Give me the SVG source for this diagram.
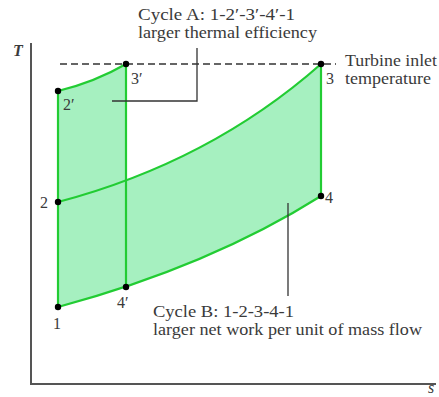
<svg xmlns="http://www.w3.org/2000/svg" width="439" height="397" viewBox="0 0 439 397">
<style>
text{font-family:"Liberation Serif","Times New Roman",serif;font-size:16px;fill:#3a3a3a}
.it{font-style:italic}
.cyc{stroke:#22cc33;stroke-width:2.2;fill:none}
.fill{fill:#a6f0c0;stroke:none}
.lead{stroke:#333;stroke-width:1.3;fill:none}
.axis{stroke:#555;stroke-width:2;fill:none}
.pt{fill:#000}
</style>
<rect width="439" height="397" fill="#fff"/>
<g id="regions">
<path class="fill" d="M58,307 L58,202 Q210,162 321,64 L321,196 Q210,266 58,307 Z"/>
<path class="fill" d="M58,307 L58,91 Q95,82 126,64 L126,287 Q90,297 58,307 Z"/>
</g>
<g id="axes">
<path class="axis" d="M31,43 L31,384 L436,384"/>
<text class="it" x="13" y="56" font-size="18" font-weight="bold">T</text>
<text class="it" x="428" y="393" font-size="14">s</text>
</g>
<g id="connectors">
<line x1="60" y1="64" x2="336" y2="64" stroke="#333" stroke-width="1.4" stroke-dasharray="7,4"/>
<path class="cyc" d="M58,307 L58,91"/>
<path class="cyc" d="M58,91 Q95,82 126,64"/>
<path class="cyc" d="M126,64 L126,287"/>
<path class="cyc" d="M58,202 Q210,162 321,64"/>
<path class="cyc" d="M321,64 L321,196"/>
<path class="cyc" d="M58,307 Q210,266 321,196"/>
<path class="lead" d="M197,48 L197,101 L112,101"/>
<path class="lead" d="M288,203 L288,296"/>
</g>
<g id="p1"><circle class="pt" cx="58" cy="307" r="3.2"/><text x="53" y="329" font-size="17">1</text></g>
<g id="p2"><circle class="pt" cx="58" cy="202" r="3.2"/><text x="40" y="208" font-size="17">2</text></g>
<g id="p2p"><circle class="pt" cx="58" cy="91" r="3.2"/><text x="63" y="110" font-size="17">2′</text></g>
<g id="p3p"><circle class="pt" cx="126" cy="64" r="3.2"/><text x="131" y="84" font-size="17">3′</text></g>
<g id="p3"><circle class="pt" cx="321" cy="64" r="3.2"/><text x="326" y="84" font-size="17">3</text></g>
<g id="p4"><circle class="pt" cx="321" cy="196" r="3.2"/><text x="325" y="203" font-size="17">4</text></g>
<g id="p4p"><circle class="pt" cx="126" cy="287" r="3.2"/><text x="117" y="308" font-size="17">4′</text></g>
<g id="labelA">
<text x="138" y="20" textLength="157" lengthAdjust="spacingAndGlyphs">Cycle A:  1-2′-3′-4′-1</text>
<text x="138" y="38" textLength="179" lengthAdjust="spacingAndGlyphs">larger thermal efficiency</text>
</g>
<g id="labelT">
<text x="345" y="66" textLength="92" lengthAdjust="spacingAndGlyphs">Turbine inlet</text>
<text x="345" y="84" textLength="86" lengthAdjust="spacingAndGlyphs">temperature</text>
</g>
<g id="labelB">
<text x="153" y="317" textLength="141" lengthAdjust="spacingAndGlyphs">Cycle B:  1-2-3-4-1</text>
<text x="153" y="335" textLength="269" lengthAdjust="spacingAndGlyphs">larger net work per unit of mass flow</text>
</g>
</svg>
